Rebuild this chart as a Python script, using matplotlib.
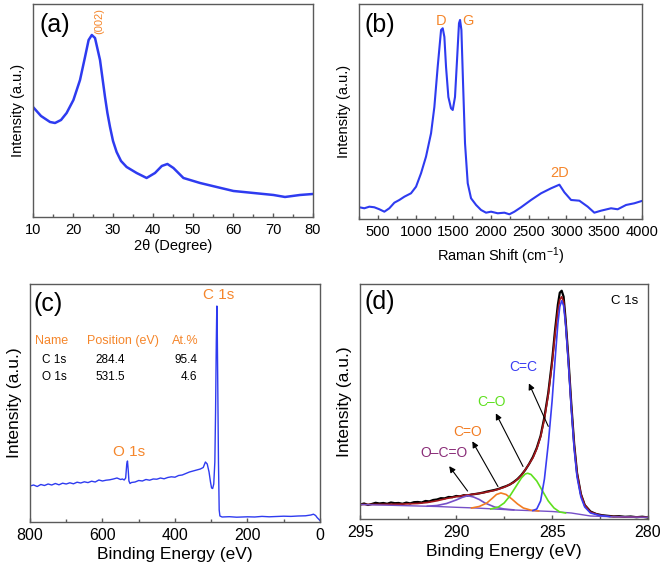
import matplotlib
matplotlib.use('Agg')
import matplotlib.pyplot as plt
from matplotlib.ticker import MultipleLocator

plt.rcParams['font.family'] = ['Liberation Sans', 'DejaVu Sans']
plt.rcParams['mathtext.fontset'] = 'custom'
plt.rcParams['mathtext.rm'] = 'Liberation Sans'
plt.rcParams['mathtext.default'] = 'regular'

# (a) XRD
xrd_2theta = [10, 12, 14.25, 15.5, 17, 18.4, 20.1, 21.75, 23, 23.9, 24.7, 25.5, 26.75, 28, 28.6,
              29.25, 30, 30.9, 32, 33.4, 35.9, 38.4, 40.5, 42.2, 43.6, 45.1, 47.6, 51.75, 55.9,
              60.1, 65.1, 70.1, 73, 76.75, 80]
xrd_int = [110, 101, 95, 94, 97, 104, 117, 137, 160, 177, 182, 179, 157, 120, 104,
           90, 76, 65, 56, 50, 44, 39, 44, 51, 53, 49, 39, 34, 30,
           26, 24, 22, 20, 22, 23]

# (b) Raman
raman_shift = [250, 316, 383, 449, 516, 582, 648, 715, 781, 848, 936, 1003, 1069, 1135, 1202,
               1246, 1290, 1335, 1357, 1379, 1401, 1432, 1467, 1490, 1520, 1547, 1573, 1587,
               1605, 1627, 1653, 1689, 1733, 1800, 1866, 1932, 1999, 2087, 2176, 2242, 2309,
               2397, 2530, 2663, 2796, 2906, 2972, 3061, 3171, 3282, 3370, 3459, 3592, 3680,
               3791, 3901, 4000]
raman_int = [11.7, 10.7, 12.3, 11.7, 9.7, 7.3, 10.7, 16.3, 19, 22.3, 25.7, 32.3, 45.7, 62.3, 85.7,
             112, 152, 189, 190.7, 182, 152, 122, 110.7, 109, 122, 159, 195.7, 199,
             189, 135.7, 75.7, 35.7, 20.7, 14, 9, 6.3, 7.3, 5.7, 6.3, 4.7, 7.3,
             11.7, 19, 25.7, 30.7, 34.3, 26.7, 19, 18.3, 12.3, 6.3, 8.3, 10.7, 9.7,
             14, 15.7, 18]

# (c) XPS survey
survey_be = [800, 790, 780, 770, 760, 750, 740, 730, 720, 710, 700, 690, 680, 670, 660, 650, 640,
             630, 620, 610, 600, 590, 580, 570, 560, 550, 545, 540, 536, 533, 531, 529, 527, 524,
             520, 510, 500, 490, 480, 470, 460, 450, 440, 430, 420, 410, 400, 390, 380, 370, 360,
             350, 340, 330, 322, 316, 311, 306, 302, 299, 296, 293, 290, 288, 286, 285, 284.4,
             283.5, 282, 280, 278, 276, 270, 250, 230, 200, 180, 160, 140, 120, 100, 80, 60, 40,
             25, 18, 12, 8, 4, 0]
survey_int = [36, 37, 35.5, 37.5, 36.5, 38, 37, 38.5, 37.2, 38.8, 38, 39.2, 38.2, 39.8, 39, 40.2, 39.4,
              40.8, 40, 42, 41, 41.8, 42.2, 43, 44, 42.5, 43, 42, 44, 58, 61, 52, 41, 38.5,
              39.5, 40, 41.5, 41, 42.5, 41.8, 43, 42.8, 44, 43.2, 44.5, 45.2, 44.8, 46.5, 47, 48.5, 50,
              51, 52, 53, 54.5, 60, 58, 50, 40, 34, 33.5, 38, 60, 110, 180, 205, 216,
              200, 140, 60, 12, 6, 5, 5.3, 4.8, 5.2, 5, 5.6, 5.2, 5.5, 5.8, 5.6, 6, 6.2,
              7, 7.8, 6.5, 4.5, 3, 1.5]
table_names = ['C 1s', 'O 1s']
table_pos = ['284.4', '531.5']
table_at = ['95.4', '4.6']

# (d) C 1s high resolution
c1s_be = [295, 294.8, 294.6, 294.4, 294.2, 294.0, 293.8, 293.6, 293.4, 293.2, 293.0, 292.8, 292.6,
          292.4, 292.2, 292.0, 291.8, 291.6, 291.4, 291.2, 291.0, 290.8, 290.6, 290.4, 290.2, 290.0,
          289.8, 289.6, 289.4, 289.2, 289.0, 288.8, 288.6, 288.4, 288.2, 288.0, 287.8, 287.6, 287.4,
          287.2, 287.0, 286.8, 286.6, 286.4, 286.2, 286.0, 285.8, 285.6, 285.4, 285.2, 285.0, 284.85,
          284.7, 284.6, 284.5, 284.4, 284.3, 284.15, 284.0, 283.85, 283.7, 283.5, 283.3, 283.0,
          282.7, 282.4, 282.1, 281.8, 281.5, 281.2, 280.9, 280.6, 280.3, 280.0]
c1s_raw = [14.5, 15.5, 14.0, 15.0, 16.2, 15.5, 16.0, 15.2, 16.5, 15.8, 16.0, 15.2, 16.4,
           15.6, 16.8, 17.0, 16.5, 18.0, 17.6, 19.0, 19.5, 20.8, 20.6, 22.0, 21.8, 23.0,
           22.6, 23.8, 23.4, 24.5, 25.0, 25.6, 26.4, 27.4, 28.2, 29.0, 30.0, 31.5, 32.8,
           34.5, 37.0, 40.0, 44.0, 49.0, 55.0, 62.0, 71.0, 83.0, 102.0, 126.0, 158.0, 188.0,
           214.0, 226.0, 228.0, 222.0, 200.0, 160.0, 115.0, 75.0, 46.0, 25.0, 14.0, 7.5,
           5.0, 3.8, 3.2, 2.6, 2.8, 2.2, 2.5, 1.8, 2.3, 1.5]
env_be = [295, 294, 293, 292, 291.5, 291, 290.5, 290, 289.5, 289, 288.5, 288, 287.5, 287, 286.6,
          286.3, 286, 285.8, 285.6, 285.4, 285.2, 285.0, 284.85, 284.7, 284.6, 284.5, 284.4, 284.3,
          284.15, 284.0, 283.85, 283.7, 283.5, 283.3, 283.0, 282.5, 282, 281, 280]
env_int = [14.5, 14.6, 14.8, 15.5, 16.5, 18.2, 20.5, 22.3, 23.8, 25.0, 26.5, 28.6, 31.7, 36.5, 43.5,
           52, 61, 70, 82, 100, 124, 155, 184, 208, 219, 222, 217, 197,
           158, 113, 74, 46, 25, 14, 7, 3.8, 2.6, 2.0, 1.7]
bg_be = [295, 294, 293, 292, 291, 290, 289, 288, 287, 286, 285, 284, 283.5, 283, 282, 281, 280]
bg_int = [14.5, 14, 13.5, 13, 12.5, 11.7, 11, 10, 9, 8.3, 7.5, 6, 4.5, 3, 2.3, 2, 1.7]
occo_be = [291.5, 291, 290.5, 290, 289.7, 289.4, 289.1, 288.8, 288.5, 288, 287.5, 287]
occo_int = [12.8, 13.5, 15.5, 19, 21.5, 23.3, 22, 19.5, 16, 12, 10, 9.1]
co2_be = [289.2, 288.8, 288.4, 288.1, 287.9, 287.67, 287.4, 287.1, 286.8, 286.5, 286.1, 285.7]
co2_int = [11, 12.5, 16, 21, 24.5, 26, 24.5, 20, 15, 11, 8.8, 8]
co_be = [288.2, 287.8, 287.5, 287.2, 286.9, 286.6, 286.4, 286.27, 286.1, 285.8, 285.5, 285.2,
         284.9, 284.6, 284.3]
co_int = [10, 12, 16, 23, 32, 41, 45, 45.7, 44.5, 38, 28, 18, 11, 7, 6]
cc_be = [286.0, 285.8, 285.6, 285.4, 285.2, 285.0, 284.85, 284.7, 284.6, 284.5, 284.4, 284.3,
         284.15, 284.0, 283.85, 283.7, 283.5, 283.3, 283.0, 282.5, 282]
cc_int = [8.5, 10, 18, 40, 75, 118, 158, 195, 212, 218, 213, 195,
          155, 110, 70, 42, 22, 12, 6, 3.5, 2.5]

blue = '#2e3bf0'
orange = '#f5862b'
spine = '#5a5a5a'

fig = plt.figure(figsize=(6.63, 5.74), dpi=100)
ax_a = fig.add_axes([0.0498, 0.622, 0.4223, 0.371])
ax_b = fig.add_axes([0.542, 0.6185, 0.426, 0.3746])
ax_c = fig.add_axes([0.0452, 0.0906, 0.4374, 0.4146])
ax_d = fig.add_axes([0.5434, 0.0958, 0.434, 0.4094])


def style(ax, major, minor, tsize, lsize):
    for s in ax.spines.values():
        s.set_color(spine)
        s.set_linewidth(1.0)
    ax.set_yticks([])
    ax.xaxis.set_major_locator(MultipleLocator(major))
    ax.xaxis.set_minor_locator(MultipleLocator(minor))
    ax.tick_params(axis='x', which='major', direction='in', length=3, width=1,
                   color=spine, labelsize=tsize, pad=4)
    ax.tick_params(axis='x', which='minor', direction='in', length=2, width=1, color=spine)
    ax.set_ylabel('Intensity (a.u.)', fontsize=lsize, labelpad=6)


# (a)
ax_a.plot(xrd_2theta, xrd_int, color=blue, lw=1.8)
ax_a.set_xlim(10, 80)
ax_a.set_ylim(0, 213)
style(ax_a, 10, 5, 10.5, 10.5)
ax_a.set_xlabel('2θ (Degree)', fontsize=10.5, labelpad=2)
ax_a.text(0.077, 0.90, '(a)', transform=ax_a.transAxes, fontsize=18, ha='center', va='center')
ax_a.text(26.6, 196, '(002)', rotation=90, color=orange, fontsize=8, ha='center', va='center')

# (b)
ax_b.plot(raman_shift, raman_int, color=blue, lw=1.5)
ax_b.set_xlim(250, 4000)
ax_b.set_ylim(0, 215)
style(ax_b, 500, 250, 10.5, 10.5)
ax_b.set_xlabel('Raman Shift (cm$^{-1}$)', fontsize=10.5, labelpad=5)
ax_b.text(0.072, 0.90, '(b)', transform=ax_b.transAxes, fontsize=18, ha='center', va='center')
ax_b.text(1335, 198, 'D', color=orange, fontsize=10.5, ha='center', va='center')
ax_b.text(1690, 198, 'G', color=orange, fontsize=10.5, ha='center', va='center')
ax_b.text(2915, 46, '2D', color=orange, fontsize=10.5, ha='center', va='center')

# (c)
ax_c.plot(survey_be, survey_int, color=blue, lw=1.0)
ax_c.set_xlim(800, 0)
ax_c.set_ylim(0, 238)
style(ax_c, 200, 100, 11.5, 12.5)
ax_c.set_xlabel('Binding Energy (eV)', fontsize=12.5, labelpad=3)
ax_c.text(0.062, 0.915, '(c)', transform=ax_c.transAxes, fontsize=18, ha='center', va='center')
ax_c.text(527, 70, 'O 1s', color=orange, fontsize=11, ha='center', va='center')
ax_c.text(280, 227, 'C 1s', color=orange, fontsize=11, ha='center', va='center')
ax_c.text(0.074, 0.76, 'Name', transform=ax_c.transAxes, color=orange, fontsize=9, ha='center', va='center')
ax_c.text(0.322, 0.76, 'Position (eV)', transform=ax_c.transAxes, color=orange, fontsize=9, ha='center', va='center')
ax_c.text(0.534, 0.76, 'At.%', transform=ax_c.transAxes, color=orange, fontsize=9, ha='center', va='center')
for i in range(len(table_names)):
    yy = 0.68 - i * 0.072
    ax_c.text(0.083, yy, table_names[i], transform=ax_c.transAxes, fontsize=8.5, ha='center', va='center')
    ax_c.text(0.276, yy, table_pos[i], transform=ax_c.transAxes, fontsize=8.5, ha='center', va='center')
    ax_c.text(0.576, yy, table_at[i], transform=ax_c.transAxes, fontsize=8.5, ha='right', va='center')

# (d)
ax_d.plot(c1s_be, c1s_raw, color='black', lw=1.6)
ax_d.plot(env_be, env_int, color='#a3171c', lw=1.2)
ax_d.plot(bg_be, bg_int, color='#7650c8', lw=1.0)
ax_d.plot(occo_be, occo_int, color='#7650c8', lw=1.2)
ax_d.plot(co2_be, co2_int, color='#f27c22', lw=1.2)
ax_d.plot(co_be, co_int, color='#5ee01e', lw=1.2)
ax_d.plot(cc_be, cc_int, color='#3a3cf2', lw=1.2)
ax_d.set_xlim(295, 280)
ax_d.set_ylim(0, 234.7)
style(ax_d, 5, 2.5, 11.5, 12.5)
ax_d.set_xlabel('Binding Energy (eV)', fontsize=12.5, labelpad=3)
ax_d.text(0.066, 0.923, '(d)', transform=ax_d.transAxes, fontsize=18, ha='center', va='center')
ax_d.text(281.2, 218, 'C 1s', fontsize=9.5, ha='center', va='center')

arrow = dict(arrowstyle='-|>', color='black', lw=0.8, mutation_scale=9)
ax_d.annotate('', xy=(286.27, 138), xytext=(285.14, 90), arrowprops=arrow)
ax_d.text(286.48, 152, 'C=C', color='#3a3cf2', fontsize=10, ha='center', va='center')
ax_d.annotate('', xy=(288.0, 108), xytext=(286.45, 50), arrowprops=arrow)
ax_d.text(288.15, 117, 'C–O', color='#5ee01e', fontsize=10, ha='center', va='center')
ax_d.annotate('', xy=(289.23, 80), xytext=(287.75, 30), arrowprops=arrow)
ax_d.text(289.4, 87, 'C=O', color='#f27c22', fontsize=10, ha='center', va='center')
ax_d.annotate('', xy=(290.45, 55), xytext=(289.32, 25.7), arrowprops=arrow)
ax_d.text(290.62, 66, 'O–C=O', color='#8a2d78', fontsize=10, ha='center', va='center')

fig.savefig('out.png', dpi=100)
